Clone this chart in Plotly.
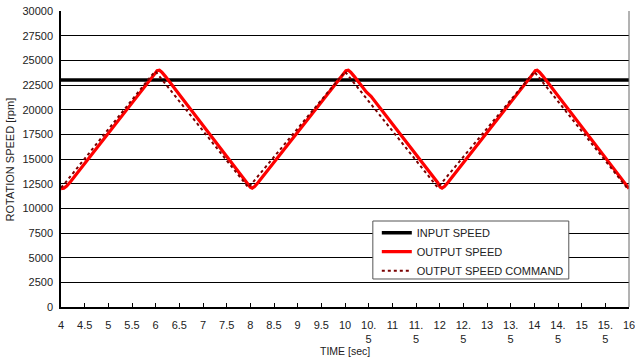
import plotly.graph_objects as go

# ---- data ----
input_time = [4.0, 16.0]
input_speed = [23000, 23000]

output_time = [4.00, 4.06, 4.12, 4.20, 5.96, 6.03, 6.08, 6.13, 6.20,
               7.93, 8.00, 8.04, 8.09, 8.16, 9.95, 10.02, 10.07, 10.12, 10.19,
               10.45, 10.55, 11.96, 12.01, 12.05, 12.10, 12.17, 13.95, 14.02,
               14.06, 14.11, 14.18, 16.00]
output_speed = [12000, 12050, 12250, 12700, 23500, 23950, 24000, 23800, 23400,
                12600, 12150, 12050, 12200, 12600, 23500, 23950, 24000, 23800, 23400,
                21800, 21350, 12600, 12150, 12050, 12200, 12600, 23500, 23950,
                24000, 23800, 23400, 12000]

command_time = [4.00, 4.05, 5.98, 6.00, 7.96, 9.98, 10.00, 11.96, 13.98, 14.00, 15.97, 16.00]
command_speed = [12100, 12350, 23850, 23850, 12100, 23850, 23850, 12100, 23850, 23850, 12000, 12000]

x_tickvals = [4 + 0.5 * i for i in range(25)]
x_ticktext = ["4", "4.5", "5", "5.5", "6", "6.5", "7", "7.5", "8", "8.5", "9", "9.5",
              "10", "10.<br>5", "11", "11.<br>5", "12", "12.<br>5", "13", "13.<br>5",
              "14", "14.<br>5", "15", "15.<br>5", "16"]
y_tickvals = [2500 * i for i in range(13)]
y_ticktext = [str(v) for v in y_tickvals]

FONT = "Liberation Sans, Arial, sans-serif"

fig = go.Figure()
fig.add_trace(go.Scatter(x=input_time, y=input_speed, mode="lines", name="INPUT SPEED",
                         line=dict(color="black", width=3.5)))
fig.add_trace(go.Scatter(x=output_time, y=output_speed, mode="lines", name="OUTPUT SPEED",
                         line=dict(color="#ff0000", width=3.2)))
fig.add_trace(go.Scatter(x=command_time, y=command_speed, mode="lines", name="OUTPUT SPEED COMMAND",
                         line=dict(color="#7a0000", width=2, dash="3px,3px")))

fig.update_layout(
    width=635, height=358,
    margin=dict(l=61, r=6, t=11, b=51),
    paper_bgcolor="white", plot_bgcolor="white",
    font=dict(family=FONT, size=11, color="#222"),
    showlegend=True,
    legend=dict(x=0.556, y=0.30, xanchor="left", yanchor="top",
                bgcolor="rgba(0,0,0,0)", borderwidth=0,
                font=dict(family=FONT, size=11, color="#222"),
                tracegroupgap=0, itemwidth=30),
)
fig.update_xaxes(range=[4, 16], tickvals=x_tickvals, ticktext=x_ticktext,
                 showgrid=False, zeroline=False, showline=True, linecolor="black", linewidth=1.5,
                 ticks="inside", ticklen=4, tickcolor="black", ticklabelstandoff=7,
                 ticklabeloverflow="allow", mirror=False, automargin=False)
fig.update_yaxes(range=[0, 30000], tickvals=y_tickvals, ticktext=y_ticktext,
                 showgrid=True, gridcolor="black", gridwidth=1, zeroline=False,
                 showline=True, linecolor="black", linewidth=1.5, mirror=False,
                 ticks="", ticklabelstandoff=4, automargin=False)
# right border
fig.add_shape(type="line", xref="paper", yref="paper", x0=1, x1=1, y0=0, y1=1,
              line=dict(color="#666", width=1))
# legend box
fig.add_shape(type="rect", xref="paper", yref="paper", x0=0.549, x1=0.894, y0=0.0946, y1=0.2905,
              line=dict(color="#555", width=1), fillcolor="white", layer="above")
fig.add_annotation(text="ROTATION SPEED [rpm]", xref="paper", yref="paper",
                   x=-0.089, y=0.5, xanchor="center", yanchor="middle", textangle=-90,
                   showarrow=False, font=dict(family=FONT, size=11, color="#222"))
fig.add_annotation(text="TIME [sec]", xref="paper", yref="paper",
                   x=0.5, y=-0.149, xanchor="center", yanchor="middle",
                   showarrow=False, font=dict(family=FONT, size=10.5, color="#222"))

fig.write_html("out.html", config={"displayModeBar": False},
               post_script="document.body.style.margin='0px';")
